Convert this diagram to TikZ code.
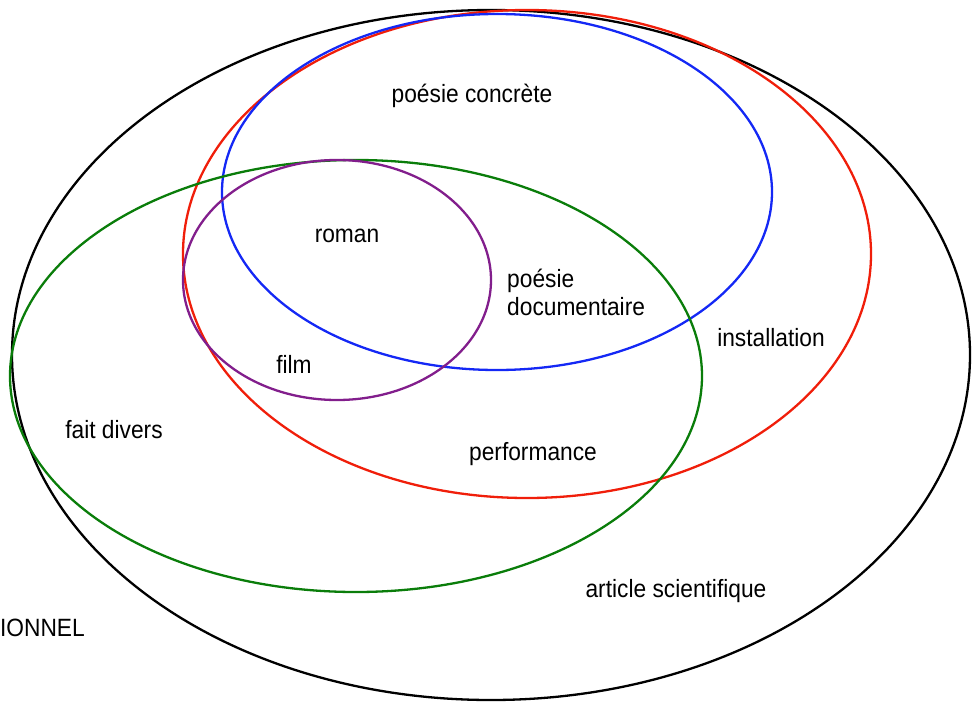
\documentclass[tikz,border=0pt]{standalone}
\usepackage{fontspec}
\setmainfont{Liberation Sans}[FakeStretch=0.91]
\definecolor{cred}{RGB}{240,30,10}
\definecolor{cblue}{RGB}{20,40,245}
\definecolor{cgreen}{RGB}{10,125,10}
\definecolor{cpurple}{RGB}{130,30,140}
\begin{document}
\begin{tikzpicture}[x=1pt,y=-1pt,
  ring/.style={line width=2.3pt},
  lbl/.style={inner sep=0pt,font=\fontsize{25}{30}\selectfont}]
\useasboundingbox (0,0) rectangle (975,702);
\clip (0,0) rectangle (975,702);
\draw[ring,black] (491,355) ellipse [x radius=479,y radius=345];
\draw[ring,cred] (527,254) ellipse [x radius=344,y radius=244];
\draw[ring,cblue] (497,192) ellipse [x radius=275,y radius=178];
\draw[ring,cgreen] (356,376) ellipse [x radius=346,y radius=216];
\draw[ring,cpurple] (337,280) ellipse [x radius=154,y radius=120];
\node[lbl] (pc) at (472,96) {poésie concrète};
\node[lbl] (ro) at (347,236) {roman};
\node[lbl,align=left,anchor=west] (pd) at (507,292) {poésie\\[-2pt]documentaire};
\node[lbl] (in) at (771,338) {installation};
\node[lbl] (fi) at (294,364) {film};
\node[lbl] (fd) at (114,430) {fait divers};
\node[lbl] (pe) at (533,454) {performance};
\node[lbl] (as) at (676,591) {article scientifique};
\node[lbl,anchor=east] (fc) at (85,628) {FICTIONNEL};
\end{tikzpicture}
\end{document}
